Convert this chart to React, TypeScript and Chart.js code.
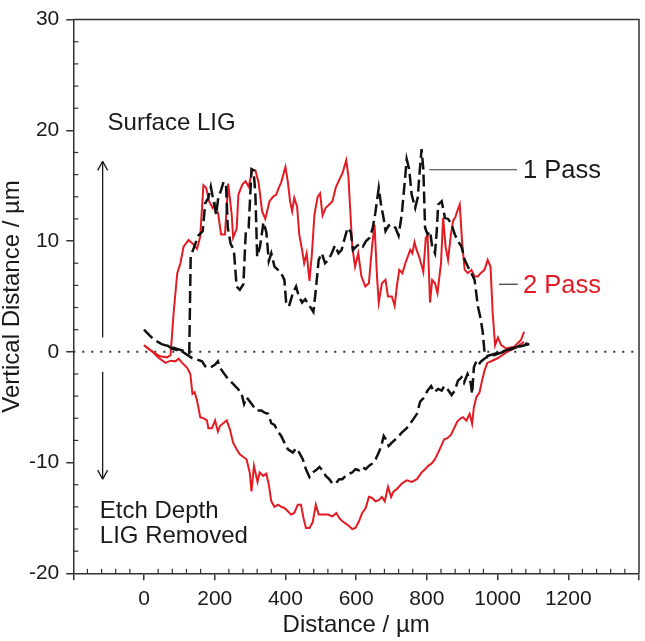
import React, { useEffect, useRef } from 'react';
import { Chart, registerables } from 'chart.js';

Chart.register(...registerables);

// profile traces: [distance µm, vertical distance µm]
const pass1Top: [number, number][] = [
  [0, 2.0], [15, 1.5], [28, 1.1], [50, 0.7], [80, 0.4], [110, 0.1], [128, -0.1], [132, 8.6],
  [145, 9.75], [154, 10.5], [166, 10.9], [173, 13.4], [182, 13.9], [189, 14.9], [196, 13.7],
  [204, 12.4], [210, 13.9], [218, 14.6], [225, 15.35], [232, 15.05], [237, 11.2], [245, 9.75],
  [254, 9.2], [262, 5.9], [271, 5.6], [281, 6.1], [288, 10.9], [296, 11.2], [304, 16.5],
  [310, 16.4], [315, 14.2], [320, 8.6], [328, 9.5], [338, 11.7], [346, 10.8], [353, 8.2],
  [360, 8.9], [369, 7.7], [379, 7.4], [388, 7.1], [397, 6.5], [402, 4.45], [410, 4.1],
  [421, 5.3], [430, 5.9], [438, 5.0], [447, 4.45], [456, 4.75], [468, 4.15], [479, 3.6],
  [486, 5.6], [494, 8.3], [503, 8.9], [512, 8.0], [522, 8.3], [531, 8.9], [540, 9.6],
  [550, 8.9], [559, 9.2], [568, 10.3], [576, 11.2], [585, 10.8], [591, 9.2], [600, 9.5],
  [610, 9.75], [619, 9.5], [628, 10.0], [638, 10.3], [647, 11.2], [654, 12.5], [664, 14.8],
  [670, 13.4], [678, 12.0], [683, 10.9], [692, 11.4], [701, 11.5], [711, 11.2], [720, 10.5],
  [729, 12.4], [739, 15.9], [743, 17.4], [750, 16.5], [757, 14.2], [767, 13.0], [774, 13.9],
  [781, 16.8], [785, 18.3], [790, 16.5], [795, 11.2], [802, 10.6], [809, 10.9], [815, 9.5],
  [823, 8.9], [828, 10.9], [832, 13.3], [842, 13.6], [851, 12.1], [860, 12.0], [870, 11.5],
  [879, 10.6], [888, 10.0], [898, 9.5], [907, 8.3], [916, 7.7], [926, 7.1], [935, 6.5],
  [944, 4.15], [952, 3.0], [958, 1.8], [963, 0.0], [968, -0.4], [1000, -0.1], [1040, 0.3],
  [1090, 0.7],
];

const pass1Bottom: [number, number][] = [
  [65, 0.6], [79, 0.3], [108, 0.03], [136, -0.56], [150, -0.7], [164, -0.86], [173, -1.3],
  [187, -1.45], [201, -1.15], [209, -0.86], [215, -1.45], [234, -2.3], [243, -2.6], [252, -2.9],
  [267, -3.4], [276, -3.8], [283, -4.7], [290, -4.1], [304, -4.7], [318, -5.3], [332, -5.3],
  [341, -5.5], [351, -5.6], [360, -6.45], [369, -6.6], [379, -7.2], [388, -7.6], [397, -8.2],
  [407, -8.8], [421, -9.1], [430, -8.7], [439, -9.1], [449, -9.7], [458, -10.6], [468, -11.3],
  [477, -10.9], [486, -10.7], [496, -10.4], [505, -10.7], [514, -11.2], [524, -11.5],
  [533, -11.9], [542, -11.9], [552, -11.5], [561, -11.5], [570, -11.2], [580, -11.0],
  [589, -10.9], [598, -10.6], [608, -10.7], [617, -10.4], [627, -10.6], [636, -10.3],
  [645, -10.1], [655, -9.7], [664, -9.1], [671, -8.5], [678, -7.6], [684, -7.9], [692, -8.5],
  [701, -8.2], [715, -7.8], [729, -7.3], [743, -6.9], [757, -6.3], [772, -5.6], [781, -4.5],
  [790, -4.2], [802, -3.5], [812, -3.1], [821, -3.65], [832, -3.35], [842, -3.5], [849, -3.1],
  [858, -3.35], [870, -3.9], [879, -3.5], [888, -2.6], [898, -2.3], [905, -2.8], [915, -2.0],
  [924, -2.8], [928, -3.8], [933, -1.4], [940, -0.85], [946, -1.15], [954, -0.85], [968, -0.5],
  [982, -0.4], [1019, 0.03], [1057, 0.47], [1085, 0.77],
];

const pass2Top: [number, number][] = [
  [0, 0.6], [20, 0.1], [45, -0.4], [65, -0.5], [75, -0.3], [84, 3.6], [94, 7.1], [103, 8.0],
  [112, 9.5], [126, 10.1], [140, 9.7], [150, 9.3], [159, 10.4], [168, 15.05], [176, 14.8],
  [184, 13.6], [194, 13.0], [201, 13.4], [210, 12.4], [218, 10.6], [229, 10.6], [238, 15.2],
  [248, 12.4], [252, 10.3], [262, 11.1], [267, 14.2], [278, 15.1], [287, 15.4], [296, 14.9],
  [306, 16.4], [315, 16.4], [324, 15.3], [334, 12.7], [343, 12.0], [355, 13.6], [365, 14.0],
  [374, 14.2], [381, 14.8], [388, 15.3], [400, 16.7], [407, 15.3], [413, 13.6], [419, 12.7],
  [425, 13.9], [433, 13.1], [439, 10.6], [447, 9.2], [453, 8.0], [460, 8.9], [468, 6.4],
  [475, 8.9], [482, 12.4], [491, 14.0], [498, 14.3], [505, 12.3], [514, 13.0], [524, 13.3],
  [533, 13.6], [542, 14.8], [553, 15.6], [561, 16.1], [572, 17.3], [578, 15.9], [584, 12.4],
  [589, 9.5], [597, 7.7], [606, 8.9], [615, 6.8], [626, 5.9], [636, 6.2], [645, 9.5],
  [652, 11.5], [659, 6.8], [664, 4.45], [673, 6.2], [683, 6.5], [690, 5.0], [701, 5.0],
  [709, 4.15], [715, 5.9], [722, 7.4], [731, 7.1], [739, 8.0], [746, 8.6], [753, 9.2],
  [759, 8.9], [765, 9.9], [771, 9.2], [778, 8.6], [786, 7.7], [790, 7.2], [797, 10.3],
  [802, 10.5], [809, 4.45], [815, 6.5], [823, 6.2], [830, 5.3], [840, 8.0], [846, 12.1],
  [853, 9.5], [860, 8.3], [868, 10.6], [874, 11.8], [881, 12.2], [886, 12.7], [893, 13.3],
  [900, 9.75], [907, 7.4], [916, 7.1], [926, 7.4], [935, 6.8], [944, 6.8], [952, 7.1],
  [963, 7.4], [972, 8.3], [980, 7.7], [986, 3.6], [993, 0.6], [1001, 1.3], [1010, 0.6],
  [1024, 0.3], [1047, 0.47], [1066, 1.06], [1075, 1.8],
];

const pass2Bottom: [number, number][] = [
  [0, 0.6], [23, 0.03], [42, -0.56], [61, -1.0], [75, -0.8], [89, -0.86], [98, -0.62],
  [108, -1.0], [122, -1.45], [131, -2.0], [137, -3.8], [143, -3.65], [150, -4.4], [159, -5.9],
  [168, -6.0], [178, -6.2], [182, -6.9], [192, -6.9], [201, -6.2], [209, -7.2], [215, -6.7],
  [224, -6.45], [234, -6.2], [243, -7.0], [252, -8.2], [262, -8.8], [271, -9.25], [281, -9.5],
  [290, -9.7], [299, -10.9], [304, -12.6], [311, -10.3], [321, -11.75], [327, -10.9],
  [337, -11.2], [346, -11.0], [353, -12.0], [360, -13.5], [369, -14.0], [379, -13.8],
  [388, -14.0], [397, -14.1], [407, -14.4], [416, -14.7], [425, -14.55], [435, -13.8],
  [444, -13.8], [451, -15.0], [458, -15.9], [468, -15.9], [477, -15.4], [486, -13.8],
  [494, -14.7], [505, -14.7], [519, -14.7], [533, -14.85], [544, -14.55], [552, -15.0],
  [561, -15.3], [575, -15.6], [589, -16.0], [598, -15.9], [608, -15.3], [617, -14.55],
  [627, -14.1], [636, -13.1], [645, -13.2], [655, -13.5], [664, -13.4], [673, -13.1],
  [681, -13.5], [690, -12.2], [699, -13.1], [706, -12.6], [715, -12.4], [729, -11.9],
  [743, -11.6], [757, -11.75], [772, -11.5], [785, -10.9], [795, -10.6], [804, -10.3],
  [813, -10.1], [823, -9.7], [832, -9.1], [842, -8.4], [849, -7.9], [858, -7.8], [868, -7.5],
  [877, -6.9], [886, -6.3], [896, -6.0], [902, -5.9], [912, -6.2], [921, -5.6], [928, -6.5],
  [933, -5.0], [940, -4.1], [949, -3.65], [956, -2.6], [963, -1.7], [971, -1.0], [982, -0.85],
  [1001, -0.56], [1029, 0.03], [1057, 0.47], [1075, 0.9],
];

const zeroLine: [number, number][] = [[-200, 0], [1400, 0]];

const xTickLabels = ['0', '200', '400', '600', '800', '1000', '1200'];
const yTickLabels = ['-20', '-10', '0', '10', '20', '30'];

const RED = '#e31b23';
const INK = '#1a1a1a';
const AXIS = '#333333';
const FONT = "'Liberation Sans', Arial, sans-serif";

const toPoints = (arr: [number, number][]) => arr.map(([x, y]) => ({ x, y }));

// text, arrows, leader lines, minor ticks and the top/right frame
const annotations = {
  id: 'annotations',
  afterDatasetsDraw(chart: any) {
    const { ctx, chartArea, scales } = chart;
    const px = (v: number) => scales.x.getPixelForValue(v);
    const py = (v: number) => scales.y.getPixelForValue(v);
    const line = (x1: number, y1: number, x2: number, y2: number) => {
      ctx.beginPath();
      ctx.moveTo(x1, y1);
      ctx.lineTo(x2, y2);
      ctx.stroke();
    };
    ctx.save();
    ctx.strokeStyle = AXIS;
    ctx.lineWidth = 1.5;
    ctx.beginPath();
    ctx.moveTo(chartArea.left, chartArea.top);
    ctx.lineTo(chartArea.right, chartArea.top);
    ctx.lineTo(chartArea.right, chartArea.bottom);
    ctx.stroke();

    ctx.lineWidth = 1.2;
    for (let v = -200; v <= 1400; v += 40) {
      if (v % 200 === 0) continue;
      line(px(v), chartArea.bottom, px(v), chartArea.bottom - 4.5);
    }
    for (let v = -20; v <= 30; v += 2) {
      if (v % 10 === 0) continue;
      line(chartArea.left, py(v), chartArea.left + 5, py(v));
    }

    // arrows
    ctx.strokeStyle = INK;
    ctx.lineWidth = 1.3;
    const ax = px(-117);
    const upTip = py(17.2);
    const downTip = py(-11.5);
    line(ax, py(1.3), ax, upTip);
    line(ax - 5, upTip + 9, ax, upTip);
    line(ax, upTip, ax + 5, upTip + 9);
    line(ax, py(-1.8), ax, downTip);
    line(ax - 5, downTip - 9, ax, downTip);
    line(ax, downTip, ax + 5, downTip - 9);

    // leader lines
    ctx.strokeStyle = AXIS;
    ctx.lineWidth = 1.2;
    line(px(807), py(16.44), px(1055), py(16.44));
    line(px(1004), py(6.1), px(1057), py(6.1));

    ctx.textBaseline = 'alphabetic';
    ctx.textAlign = 'left';
    ctx.fillStyle = INK;
    ctx.font = `24px ${FONT}`;
    ctx.fillText('Surface LIG', px(-103), py(20));
    ctx.fillText('Etch Depth', px(-125), py(-15));
    ctx.fillText('LIG Removed', px(-125), py(-17.3));
    ctx.font = `25.5px ${FONT}`;
    ctx.fillText('1 Pass', px(1072), py(15.7));
    ctx.fillStyle = RED;
    ctx.fillText('2 Pass', px(1072), py(5.35));
    ctx.restore();
  },
};

export default function App() {
  const canvasRef = useRef<HTMLCanvasElement | null>(null);

  useEffect(() => {
    document.body.style.margin = '0';
    if (!canvasRef.current) return;
    Chart.defaults.font.family = FONT;

    const chart = new Chart(canvasRef.current, {
      type: 'line',
      data: {
        datasets: [
          {
            label: '1 Pass top',
            data: toPoints(pass1Top),
            borderColor: '#111111',
            borderWidth: 2.5,
            borderDash: [12, 5],
          },
          {
            label: '1 Pass bottom',
            data: toPoints(pass1Bottom),
            borderColor: '#111111',
            borderWidth: 2.5,
            borderDash: [12, 5],
          },
          {
            label: '2 Pass top',
            data: toPoints(pass2Top),
            borderColor: RED,
            borderWidth: 2,
          },
          {
            label: '2 Pass bottom',
            data: toPoints(pass2Bottom),
            borderColor: RED,
            borderWidth: 2,
          },
          {
            label: 'zero',
            data: toPoints(zeroLine),
            borderColor: AXIS,
            borderWidth: 2,
            borderDash: [2, 7],
          },
        ],
      },
      options: {
        responsive: false,
        animation: false,
        events: [],
        layout: { padding: { top: 9.3, right: 2.3, left: 0, bottom: 0 } },
        elements: {
          point: { radius: 0 },
          line: { tension: 0, fill: false },
        },
        plugins: {
          legend: { display: false },
          tooltip: { enabled: false },
        },
        scales: {
          x: {
            type: 'linear',
            min: -200,
            max: 1400,
            afterFit: (scale: any) => {
              scale.height = 67.7;
            },
            ticks: {
              stepSize: 200,
              autoSkip: false,
              maxRotation: 0,
              padding: 6,
              color: INK,
              font: { size: 21 },
              callback: (v: any) => (xTickLabels.includes(String(v)) ? String(v) : ''),
            },
            grid: { drawOnChartArea: false, drawTicks: true, tickLength: 7, color: AXIS, lineWidth: 1.5 },
            border: { display: true, color: AXIS, width: 1.5 },
            title: {
              display: true,
              text: 'Distance / µm',
              color: INK,
              font: { size: 24, lineHeight: 1 },
              padding: { top: 0, bottom: 4 },
            },
          },
          y: {
            type: 'linear',
            min: -20,
            max: 30,
            afterFit: (scale: any) => {
              scale.width = 73.3;
            },
            ticks: {
              stepSize: 10,
              padding: 7,
              color: INK,
              font: { size: 21 },
              callback: (v: any) => (yTickLabels.includes(String(v)) ? String(v) : ''),
            },
            grid: { drawOnChartArea: false, drawTicks: true, tickLength: 7, color: AXIS, lineWidth: 1.5 },
            border: { display: true, color: AXIS, width: 1.5 },
            title: {
              display: true,
              text: 'Vertical Distance / µm',
              color: INK,
              font: { size: 24, lineHeight: 1 },
              padding: { top: 0, bottom: 0 },
            },
          },
        },
      },
      plugins: [annotations],
    });

    return () => chart.destroy();
  }, []);

  return (
    <div style={{ width: 645, height: 641 }}>
      <canvas ref={canvasRef} width={645} height={641} style={{ display: 'block' }} />
    </div>
  );
}
